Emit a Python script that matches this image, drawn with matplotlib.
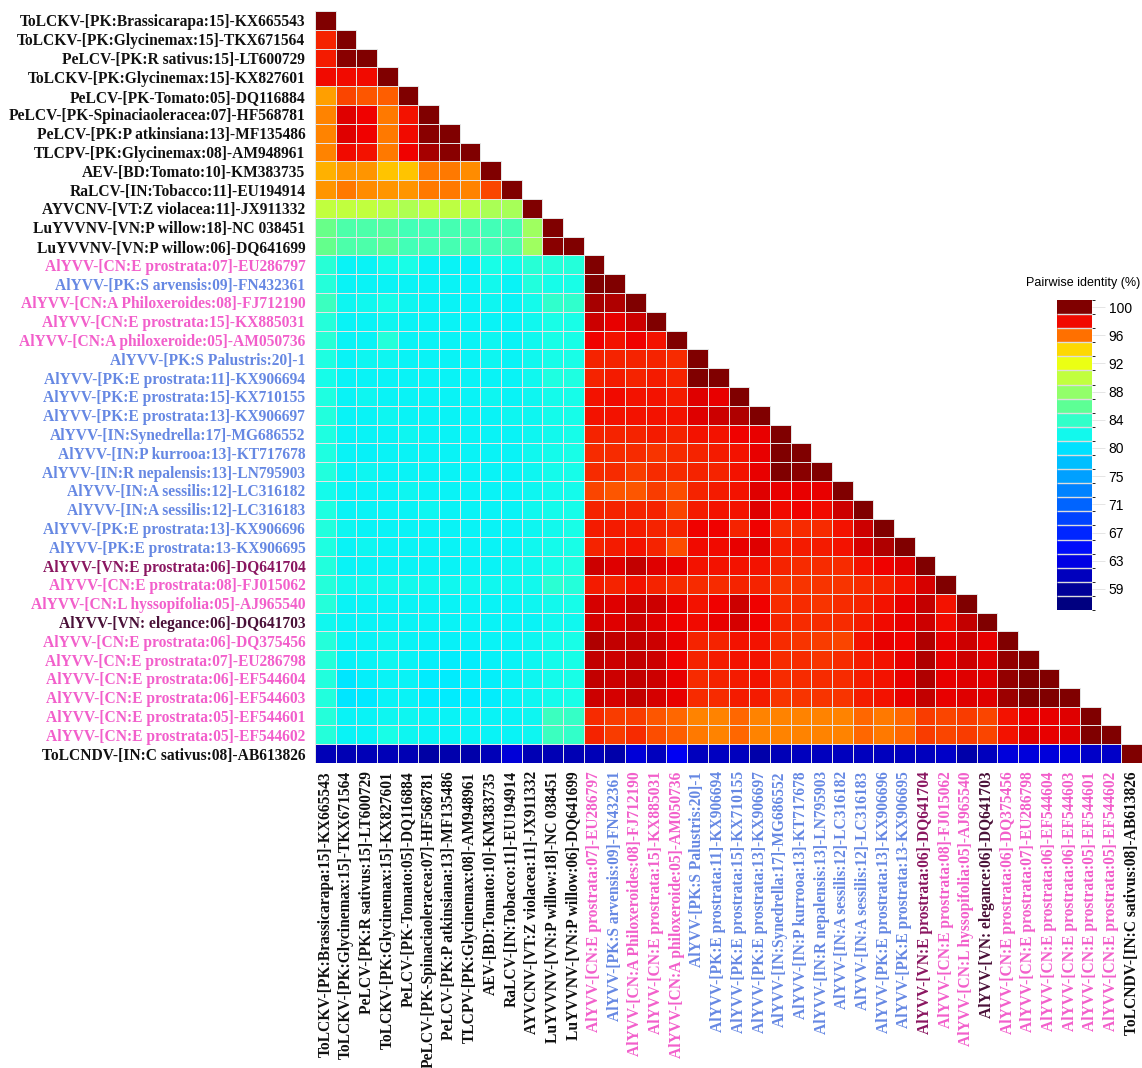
import numpy as np
import matplotlib
matplotlib.use("Agg")
import matplotlib.pyplot as plt
from matplotlib.colors import LinearSegmentedColormap, Normalize, BoundaryNorm
import matplotlib.cm as cm

# sequence names (row / column order)
names = [
    "ToLCKV-[PK:Brassicarapa:15]-KX665543",
    "ToLCKV-[PK:Glycinemax:15]-TKX671564",
    "PeLCV-[PK:R sativus:15]-LT600729",
    "ToLCKV-[PK:Glycinemax:15]-KX827601",
    "PeLCV-[PK-Tomato:05]-DQ116884",
    "PeLCV-[PK-Spinaciaoleracea:07]-HF568781",
    "PeLCV-[PK:P atkinsiana:13]-MF135486",
    "TLCPV-[PK:Glycinemax:08]-AM948961",
    "AEV-[BD:Tomato:10]-KM383735",
    "RaLCV-[IN:Tobacco:11]-EU194914",
    "AYVCNV-[VT:Z violacea:11]-JX911332",
    "LuYVVNV-[VN:P willow:18]-NC 038451",
    "LuYVVNV-[VN:P willow:06]-DQ641699",
    "AlYVV-[CN:E prostrata:07]-EU286797",
    "AlYVV-[PK:S arvensis:09]-FN432361",
    "AlYVV-[CN:A Philoxeroides:08]-FJ712190",
    "AlYVV-[CN:E prostrata:15]-KX885031",
    "AlYVV-[CN:A philoxeroide:05]-AM050736",
    "AlYVV-[PK:S Palustris:20]-1",
    "AlYVV-[PK:E prostrata:11]-KX906694",
    "AlYVV-[PK:E prostrata:15]-KX710155",
    "AlYVV-[PK:E prostrata:13]-KX906697",
    "AlYVV-[IN:Synedrella:17]-MG686552",
    "AlYVV-[IN:P kurrooa:13]-KT717678",
    "AlYVV-[IN:R nepalensis:13]-LN795903",
    "AlYVV-[IN:A sessilis:12]-LC316182",
    "AlYVV-[IN:A sessilis:12]-LC316183",
    "AlYVV-[PK:E prostrata:13]-KX906696",
    "AlYVV-[PK:E prostrata:13-KX906695",
    "AlYVV-[VN:E prostrata:06]-DQ641704",
    "AlYVV-[CN:E prostrata:08]-FJ015062",
    "AlYVV-[CN:L hyssopifolia:05]-AJ965540",
    "AlYVV-[VN: elegance:06]-DQ641703",
    "AlYVV-[CN:E prostrata:06]-DQ375456",
    "AlYVV-[CN:E prostrata:07]-EU286798",
    "AlYVV-[CN:E prostrata:06]-EF544604",
    "AlYVV-[CN:E prostrata:06]-EF544603",
    "AlYVV-[CN:E prostrata:05]-EF544601",
    "AlYVV-[CN:E prostrata:05]-EF544602",
    "ToLCNDV-[IN:C sativus:08]-AB613826",
]

# label group of each name
groups = (["other"] * 13
          + ["CN", "PK", "CN", "CN", "CN"]
          + ["PK"] * 11
          + ["VN1", "CN", "CN", "VN2"]
          + ["CN"] * 6
          + ["other"])

group_colors = {"other": "#111111", "CN": "#F25FCB", "PK": "#6688E3",
                "VN1": "#8A1660", "VN2": "#4A1038"}

# pairwise identity (%), lower triangle, row by row
identity_rows = [
    [100],
    [97.3, 100],
    [97.4, 99.8, 100],
    [97.7, 97.8, 97.8, 100],
    [94.9, 96.6, 96.2, 96.0, 100],
    [95.3, 98.2, 97.9, 95.5, 97.5, 100],
    [95.3, 98.3, 97.9, 95.5, 97.7, 99.7, 100],
    [95.3, 97.7, 97.5, 95.5, 97.9, 99.2, 99.7, 100],
    [94.5, 95.1, 95.1, 94.2, 94.2, 95.5, 95.5, 95.2, 100],
    [95.1, 95.6, 95.2, 95.1, 95.1, 95.6, 95.6, 95.3, 96.6, 100],
    [89.6, 89.6, 89.6, 89.4, 88.9, 89.5, 89.5, 89.3, 88.6, 88.4, 100],
    [86.2, 84.8, 84.8, 85.2, 84.3, 84.3, 84.5, 84.4, 84.3, 84.5, 88.2, 100],
    [86.0, 84.8, 84.8, 85.4, 84.3, 84.3, 84.5, 84.4, 84.3, 84.6, 88.2, 99.8, 100],
    [82.8, 80.8, 80.8, 81.6, 82.0, 80.8, 80.8, 80.6, 82.0, 81.6, 82.8, 82.6, 82.6,
     100],
    [82.6, 80.8, 80.8, 80.8, 80.8, 80.8, 80.8, 80.8, 81.4, 80.8, 82.4, 81.8, 82.0,
     99.9, 100],
    [84.0, 81.0, 81.2, 81.8, 81.0, 80.8, 80.8, 80.8, 81.0, 80.8, 81.6, 83.2, 83.2,
     99.3, 99.0, 100],
    [82.6, 80.8, 80.8, 81.0, 80.8, 80.8, 80.8, 80.8, 80.8, 80.8, 81.2, 82.0, 82.0,
     98.6, 98.1, 98.5, 100],
    [82.8, 80.8, 80.8, 82.6, 80.8, 80.8, 80.8, 80.8, 81.0, 80.8, 81.2, 82.0, 82.0,
     97.9, 97.6, 97.9, 97.6, 100],
    [82.3, 80.8, 81.0, 81.0, 80.8, 80.8, 80.8, 80.8, 81.0, 80.8, 81.2, 81.8, 82.0,
     97.2, 97.2, 97.3, 97.2, 97.0, 100],
    [81.8, 80.8, 80.8, 80.8, 80.8, 80.8, 80.8, 80.8, 80.8, 80.8, 81.2, 82.2, 82.2,
     97.2, 97.4, 97.2, 97.4, 97.2, 99.9, 100],
    [82.2, 80.8, 81.0, 80.8, 80.8, 80.8, 80.8, 80.8, 81.0, 80.8, 81.0, 81.6, 81.8,
     97.6, 97.8, 97.6, 97.6, 97.4, 98.2, 98.1, 100],
    [82.4, 80.8, 80.8, 81.0, 80.8, 80.8, 80.8, 80.8, 80.8, 81.0, 81.0, 81.6, 81.8,
     97.6, 97.6, 97.6, 97.6, 97.6, 98.2, 98.5, 99.1, 100],
    [82.2, 80.8, 80.8, 80.8, 81.0, 80.8, 80.8, 80.8, 80.8, 80.8, 81.0, 81.4, 81.8,
     97.2, 97.2, 97.2, 97.4, 97.2, 97.6, 97.6, 97.9, 98.1, 100],
    [82.2, 80.8, 80.6, 80.8, 80.8, 80.8, 80.8, 80.8, 80.8, 80.8, 81.2, 81.6, 82.0,
     97.1, 97.1, 97.0, 96.9, 97.1, 97.3, 97.4, 97.6, 98.1, 99.9, 100],
    [82.4, 80.8, 81.0, 80.8, 80.8, 80.8, 80.8, 80.8, 80.8, 80.8, 81.0, 81.6, 81.8,
     97.1, 97.1, 96.8, 97.1, 97.1, 97.2, 97.3, 97.6, 98.1, 99.9, 99.8, 100],
    [81.6, 80.8, 80.8, 80.8, 81.0, 80.8, 80.8, 80.8, 80.8, 80.8, 81.0, 81.4, 81.6,
     96.6, 96.2, 96.3, 96.8, 96.4, 97.3, 97.4, 97.6, 98.25, 98.1, 98.1, 98.1, 100],
    [82.2, 80.8, 80.8, 80.8, 80.8, 81.0, 80.8, 80.8, 80.8, 80.8, 81.2, 81.6, 81.8,
     97.2, 97.2, 97.2, 97.2, 96.6, 97.4, 97.6, 97.6, 98.25, 97.8, 97.9, 97.8, 98.6,
     100],
    [82.4, 81.0, 80.8, 80.8, 80.8, 80.8, 80.8, 80.8, 80.8, 80.8, 81.0, 81.4, 82.0,
     97.4, 97.4, 97.4, 97.2, 97.2, 97.9, 97.9, 97.2, 97.9, 97.0, 97.0, 97.0, 97.6,
     98.6, 100],
    [82.2, 80.8, 81.0, 80.8, 80.8, 80.8, 80.8, 80.8, 80.8, 80.8, 81.2, 81.6, 82.0,
     97.2, 97.4, 97.6, 97.2, 96.4, 97.8, 97.8, 98.0, 98.25, 97.4, 97.4, 97.4, 97.6,
     98.4, 99.0, 100],
    [82.4, 80.8, 80.8, 80.8, 80.8, 80.8, 80.8, 80.8, 80.8, 81.0, 81.2, 81.8, 82.2,
     98.6, 98.3, 98.8, 98.25, 98.1, 97.6, 97.6, 97.6, 97.6, 97.2, 97.0, 97.0, 97.0,
     97.6, 97.9, 98.25, 100],
    [82.6, 81.4, 81.4, 81.4, 81.4, 81.2, 81.2, 81.2, 81.2, 81.2, 81.4, 83.0, 82.6,
     97.4, 97.2, 97.6, 97.2, 97.0, 97.0, 97.0, 97.2, 97.2, 96.9, 96.9, 96.9, 96.9,
     97.1, 97.3, 97.6, 98.4, 100],
    [82.6, 80.8, 80.8, 80.8, 80.8, 80.8, 80.8, 80.8, 80.8, 80.8, 81.0, 81.4, 81.8,
     98.4, 98.3, 98.5, 98.5, 98.1, 97.6, 97.9, 98.6, 97.9, 97.0, 97.0, 96.9, 97.0,
     97.2, 97.6, 98.0, 98.7, 97.6, 100],
    [81.2, 80.8, 80.8, 80.8, 80.8, 80.8, 80.8, 80.8, 80.8, 80.8, 80.8, 81.2, 81.2,
     98.4, 98.25, 98.5, 98.25, 97.9, 97.8, 98.1, 98.4, 97.9, 97.2, 97.1, 97.0, 97.1,
     97.4, 97.8, 98.1, 98.6, 97.8, 98.8, 100],
    [82.6, 80.8, 80.8, 81.0, 80.8, 80.6, 80.6, 80.6, 80.8, 80.8, 81.0, 81.6, 82.0,
     99.0, 98.7, 98.8, 98.5, 98.0, 97.2, 97.3, 97.6, 97.6, 97.0, 96.9, 96.8, 96.6,
     97.6, 98.0, 97.9, 99.1, 98.0, 98.5, 98.1, 100],
    [82.6, 80.6, 80.8, 81.0, 80.8, 80.4, 80.2, 80.2, 80.6, 80.8, 81.0, 81.6, 82.0,
     98.7, 98.5, 98.7, 98.5, 97.9, 97.2, 97.4, 97.6, 97.6, 97.0, 97.0, 96.9, 97.0,
     97.4, 97.6, 98.1, 99.0, 98.0, 98.5, 98.3, 99.6, 100],
    [82.4, 79.8, 80.4, 80.8, 80.8, 80.0, 80.0, 80.4, 80.4, 80.8, 81.0, 81.6, 82.0,
     98.7, 98.5, 98.8, 98.5, 98.0, 97.0, 97.2, 97.4, 97.6, 97.0, 97.0, 97.0, 97.0,
     97.4, 97.6, 98.0, 99.0, 98.0, 98.3, 98.25, 99.5, 99.9, 100],
    [82.4, 79.7, 79.9, 80.8, 80.8, 80.0, 80.0, 80.0, 80.2, 80.8, 81.0, 81.6, 82.0,
     98.6, 98.4, 98.8, 98.4, 98.0, 97.0, 97.1, 97.4, 97.4, 96.9, 96.9, 96.9, 96.9,
     97.4, 97.6, 98.0, 98.7, 98.0, 98.3, 98.25, 99.4, 99.9, 99.9, 100],
    [82.6, 80.8, 80.8, 81.0, 81.0, 80.8, 80.8, 80.8, 80.8, 80.8, 81.0, 84.0, 83.6,
     97.0, 96.8, 96.8, 96.2, 95.8, 95.3, 95.3, 95.8, 95.45, 95.45, 95.45, 95.3, 95.45,
     95.8, 95.6, 95.8, 96.8, 96.6, 96.8, 96.6, 97.6, 98.1, 98.1, 98.2, 100],
    [82.6, 80.8, 80.8, 82.0, 81.0, 80.8, 80.8, 80.8, 80.8, 80.8, 81.0, 84.0, 83.4,
     97.2, 96.8, 97.0, 96.4, 96.0, 95.6, 95.3, 95.8, 95.45, 95.45, 95.45, 95.3, 95.45,
     95.8, 95.6, 95.8, 96.8, 96.6, 96.8, 96.6, 97.6, 98.2, 98.1, 98.2, 99.9, 100],
    [60.8, 60.5, 60.8, 60.8, 60.6, 59.8, 60.3, 60.0, 60.8, 62.4, 60.5, 60.6, 60.6,
     60.8, 60.0, 62.4, 61.0, 64.0, 61.0, 61.2, 61.0, 60.0, 60.8, 61.0, 61.0, 61.0,
     61.0, 61.0, 61.0, 61.0, 61.5, 60.0, 61.0, 62.5, 62.5, 62.5, 62.5, 61.5, 61.5,
     100],
]

# colour bar
cbar_tick_labels = ["100", "96", "92", "88", "84", "80", "75", "71", "67", "63", "59"]
vmax = 100.0
step = 2.05
nbins = 22
vmin = vmax - step * (nbins - 1)

anchor_vals = [vmin, 58, 60, 62, 64, 66, 68, 70, 72, 74, 76, 78, 80, 82, 84,
               86, 88, 90, 92, 94, 96, 98, 100]
anchor_cols = ["#000080", "#000087", "#0000aa", "#0000d2", "#0000f5", "#0019ff",
               "#0032ff", "#0050ff", "#006eff", "#008cff", "#00aaff", "#00c8ff",
               "#00ebff", "#19ffe6", "#3cffbe", "#64ff8c", "#9bff64", "#c8ff37",
               "#f0ff0f", "#ffd200", "#ff6400", "#f00000", "#800000"]
pos = [(v - vmin) / (vmax - vmin) for v in anchor_vals]
cmap = LinearSegmentedColormap.from_list("pid", list(zip(pos, anchor_cols)))
norm = Normalize(vmin=vmin, vmax=vmax)

W, H = 1142, 1068
fig = plt.figure(figsize=(W / 100, H / 100), dpi=100)
ax = fig.add_axes([315 / W, 1 - 763 / H, (1142 - 315) / W, (763 - 11) / H])

n = len(names)
for i, row in enumerate(identity_rows):
    xe = np.arange(len(row) + 1)
    ye = np.array([i, i + 1])
    ax.pcolormesh(xe, ye, np.array([row]), cmap=cmap, norm=norm,
                  edgecolors="#e4e4e4", linewidth=0.5)

ax.set_xlim(0, n)
ax.set_ylim(n, 0)
for s in ax.spines.values():
    s.set_visible(False)

lab_font = dict(family="Liberation Serif", weight="bold", size=11.2)
ax.set_yticks(np.arange(n) + 0.5)
ax.set_yticklabels(names, **lab_font)
ax.set_xticks(np.arange(n) + 0.5)
ax.set_xticklabels(names, rotation=90, **lab_font)
ax.tick_params(length=0, pad=7)
ax.tick_params(axis="x", pad=6)
for t, g in zip(ax.get_yticklabels(), groups):
    t.set_color(group_colors[g])
for t, g in zip(ax.get_xticklabels(), groups):
    t.set_color(group_colors[g])

# discrete colour bar
cax = fig.add_axes([1057 / W, 1 - 610 / H, 35 / W, 310 / H])
bounds = vmin - step / 2 + step * np.arange(nbins + 1)
sm = cm.ScalarMappable(norm=BoundaryNorm(bounds, cmap.N), cmap=cmap)
cb = fig.colorbar(sm, cax=cax, drawedges=True)
cb.outline.set_visible(False)
cb.dividers.set_color("#dddddd")
cb.dividers.set_linewidth(1.0)
cb.set_ticks([vmax - 2 * step * k for k in range(len(cbar_tick_labels))])
cb.set_ticklabels(cbar_tick_labels)
cax.tick_params(length=9, width=0.6, color="#e0e0e0", pad=3,
                labelsize=10, labelfontfamily="Liberation Sans")
fig.text(1083 / W, 1 - 283 / H, "Pairwise identity (%)", ha="center", va="center",
         fontsize=9, family="Liberation Sans")

fig.savefig("out.png", dpi=100, facecolor="white")
